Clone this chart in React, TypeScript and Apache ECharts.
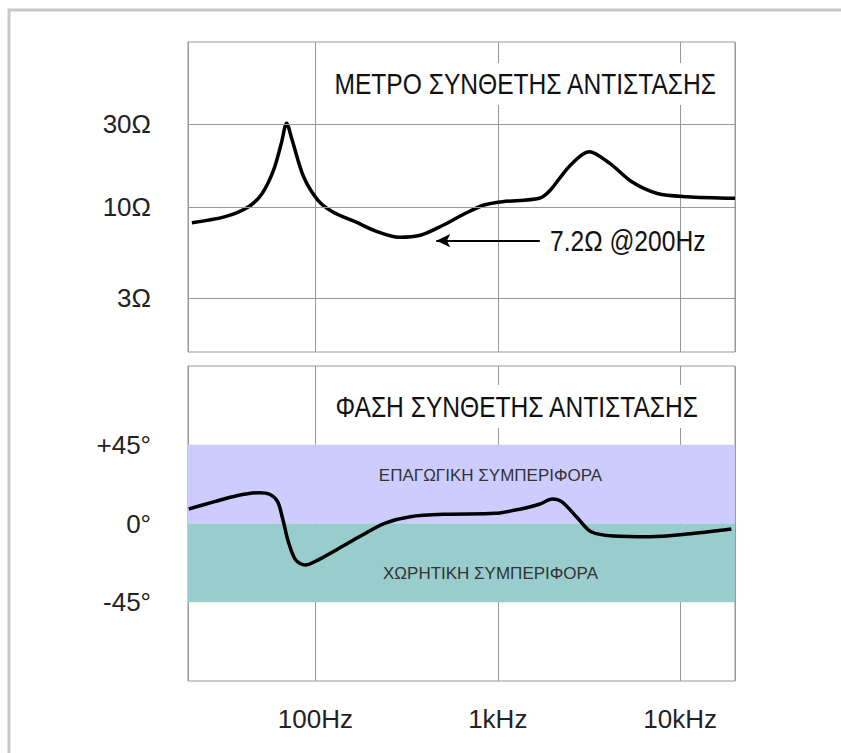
import React, { useEffect, useRef } from 'react';
import * as echarts from 'echarts';

// ---- data ----
const impFreq = [21, 32, 43, 51, 59, 65, 69.5, 74.5, 86, 103, 124, 165, 218, 288, 380, 504, 666, 840, 1060, 1690, 1945, 2460, 3170, 4100, 5430, 7500, 10900, 20000];
const impOhm = [8.15, 8.83, 10.07, 12.0, 16.4, 23.3, 30.3, 24.3, 15.0, 11.0, 9.43, 8.26, 7.24, 6.72, 6.93, 7.91, 9.23, 10.3, 10.76, 11.25, 12.56, 17.1, 20.8, 17.9, 14.0, 12.0, 11.5, 11.25];

const phaseFreq = [20.2, 28, 37, 49, 56, 62, 66, 71, 78, 88, 103, 130, 181, 239, 331, 528, 967, 1340, 1690, 1990, 2240, 2700, 3250, 4300, 6840, 10900, 19100];
const phaseDeg = [8.3, 12.5, 15.9, 17.6, 16.7, 12.5, 3.0, -10.4, -20.9, -23.7, -20.9, -15.1, -6.6, 0.1, 3.9, 5.3, 5.8, 8.3, 11.0, 14.0, 12.5, 3.9, -4.7, -7.1, -7.5, -6.0, -3.1];

const freqTicks = [100, 1000, 10000];
const freqLabels = ['100Hz', '1kHz', '10kHz'];
const ohmTicks = [30, 10, 3];
const ohmLabels = ['30Ω', '10Ω', '3Ω'];
const phaseTicks = [45, 0, -45];
const phaseLabels = ['+45°', '0°', '-45°'];

const bandInductive = [0, 45];
const bandCapacitive = [-45, 0];

const annotationFreq = [460, 1700];
const annotationOhm = 6.43;
const annotationText = '7.2Ω @200Hz';

const titleMag = 'ΜΕΤΡΟ ΣΥΝΘΕΤΗΣ ΑΝΤΙΣΤΑΣΗΣ';
const titlePhase = 'ΦΑΣΗ ΣΥΝΘΕΤΗΣ ΑΝΤΙΣΤΑΣΗΣ';
const labelInductive = 'ΕΠΑΓΩΓΙΚΗ ΣΥΜΠΕΡΙΦΟΡΑ';
const labelCapacitive = 'ΧΩΡΗΤΙΚΗ ΣΥΜΠΕΡΙΦΟΡΑ';

const FONT = '"Liberation Sans", Arial, sans-serif';
const GRID_COLOR = '#999';
const NARROW = 0.82;

function pickLabel(ticks: number[], labels: string[], v: number) {
  const i = ticks.findIndex((t) => Math.abs(t - v) <= Math.max(1e-6, Math.abs(t) * 1e-6));
  return i >= 0 ? labels[i] : '';
}

function narrowText(text: string, x: number, y: number, align: string, size: number, color: string) {
  return {
    type: 'text',
    x,
    y,
    scaleX: NARROW,
    z: 20,
    silent: true,
    style: {
      text,
      fill: color,
      fontSize: size,
      fontFamily: FONT,
      fontWeight: 'normal',
      align,
      textAlign: align,
      verticalAlign: 'middle',
      textVerticalAlign: 'middle',
    },
  };
}

export default function App() {
  const ref = useRef<HTMLDivElement>(null);

  useEffect(() => {
    if (!ref.current) return;
    const chart = echarts.init(ref.current, null, { renderer: 'svg' });

    const option: any = {
      animation: false,
      backgroundColor: '#fff',
      graphic: [
        {
          type: 'polyline',
          shape: { points: [[9, 753], [9, 10], [841, 10]] },
          style: { stroke: '#c8c8c8', lineWidth: 3, fill: 'none' },
          silent: true,
          z: 20,
        },
        { type: 'rect', shape: { x: 320, y: 63, width: 410, height: 42 }, style: { fill: '#fff' }, silent: true, z: 19 },
        { type: 'rect', shape: { x: 332, y: 385, width: 381, height: 43 }, style: { fill: '#fff' }, silent: true, z: 19 },
        narrowText(titleMag, 716, 84, 'right', 30, '#111'),
        narrowText(titlePhase, 698, 407, 'right', 30, '#111'),
        narrowText(annotationText, 550, 241, 'left', 30, '#111'),
      ],
      grid: [
        { left: 188, top: 42, width: 547, height: 310, show: true, borderColor: GRID_COLOR, borderWidth: 1, backgroundColor: 'transparent' },
        { left: 188, top: 366, width: 547, height: 315, show: true, borderColor: GRID_COLOR, borderWidth: 1, backgroundColor: 'transparent' },
      ],
      xAxis: [
        {
          type: 'log', logBase: 10, gridIndex: 0, min: 20, max: 20000, z: 1,
          axisLine: { show: false }, axisTick: { show: false }, axisLabel: { show: false },
          splitLine: { show: true, lineStyle: { color: GRID_COLOR, width: 1 } },
        },
        {
          type: 'log', logBase: 10, gridIndex: 1, min: 20, max: 20000, z: 1,
          axisLine: { show: false }, axisTick: { show: false },
          axisLabel: {
            show: true, margin: 25, fontSize: 26, fontFamily: FONT, color: '#222',
            formatter: (v: number) => pickLabel(freqTicks, freqLabels, v),
          },
          splitLine: { show: true, lineStyle: { color: GRID_COLOR, width: 1 } },
        },
      ],
      yAxis: [
        {
          type: 'log', logBase: 10, gridIndex: 0, min: 1.476, max: 88.8,
          axisLine: { show: false }, axisTick: { show: false }, axisLabel: { show: false },
          splitLine: { show: false },
        },
        {
          type: 'value', gridIndex: 1, min: -90, max: 90, interval: 45,
          axisLine: { show: false }, axisTick: { show: false },
          splitLine: { show: false },
          axisLabel: {
            margin: 37, fontSize: 26, fontFamily: FONT, color: '#222',
            formatter: (v: number) => pickLabel(phaseTicks, phaseLabels, v),
          },
        },
      ],
      series: [
        {
          name: 'ohm-grid',
          type: 'line', xAxisIndex: 0, yAxisIndex: 0, data: [], z: 1, silent: true,
          markLine: {
            silent: true, symbol: ['none', 'none'], animation: false,
            lineStyle: { color: GRID_COLOR, width: 1, type: 'solid' },
            emphasis: { disabled: true },
            label: { show: true, position: 'start', distance: 37, fontSize: 26, fontFamily: FONT, color: '#222' },
            data: ohmTicks.map((t, i) => ({ yAxis: t, label: { formatter: ohmLabels[i] } })),
          },
        },
        {
          name: 'bands',
          type: 'line', xAxisIndex: 1, yAxisIndex: 1, data: [], z: 0, silent: true,
          markArea: {
            silent: true,
            emphasis: { disabled: true },
            label: { show: true, position: 'inside', fontSize: 17, fontFamily: FONT, color: '#333' },
            data: [
              [
                { yAxis: bandInductive[0], itemStyle: { color: '#ccccff' }, label: { formatter: labelInductive, offset: [29, -9] } },
                { yAxis: bandInductive[1] },
              ],
              [
                { yAxis: bandCapacitive[0], itemStyle: { color: '#99cccc' }, label: { formatter: labelCapacitive, offset: [29, 11] } },
                { yAxis: bandCapacitive[1] },
              ],
            ],
          },
        },
        {
          name: 'magnitude',
          type: 'line', xAxisIndex: 0, yAxisIndex: 0, z: 3,
          data: impFreq.map((f, i) => [f, impOhm[i]]),
          smooth: 0.3, symbol: 'none',
          lineStyle: { color: '#000', width: 3.5 },
          markLine: {
            silent: true, animation: false,
            symbol: ['arrow', 'none'], symbolSize: [10, 14],
            lineStyle: { color: '#000', width: 2, type: 'solid' },
            emphasis: { disabled: true },
            label: { show: false },
            data: [[{ coord: [annotationFreq[0], annotationOhm] }, { coord: [annotationFreq[1], annotationOhm] }]],
          },
        },
        {
          name: 'phase',
          type: 'line', xAxisIndex: 1, yAxisIndex: 1, z: 3,
          data: phaseFreq.map((f, i) => [f, phaseDeg[i]]),
          smooth: 0.3, symbol: 'none',
          lineStyle: { color: '#000', width: 3.5 },
        },
      ],
    };

    chart.setOption(option);
    return () => chart.dispose();
  }, []);

  return (
    <div
      ref={ref}
      style={{ position: 'fixed', left: 0, top: 0, width: 841, height: 753, background: '#fff' }}
    />
  );
}
